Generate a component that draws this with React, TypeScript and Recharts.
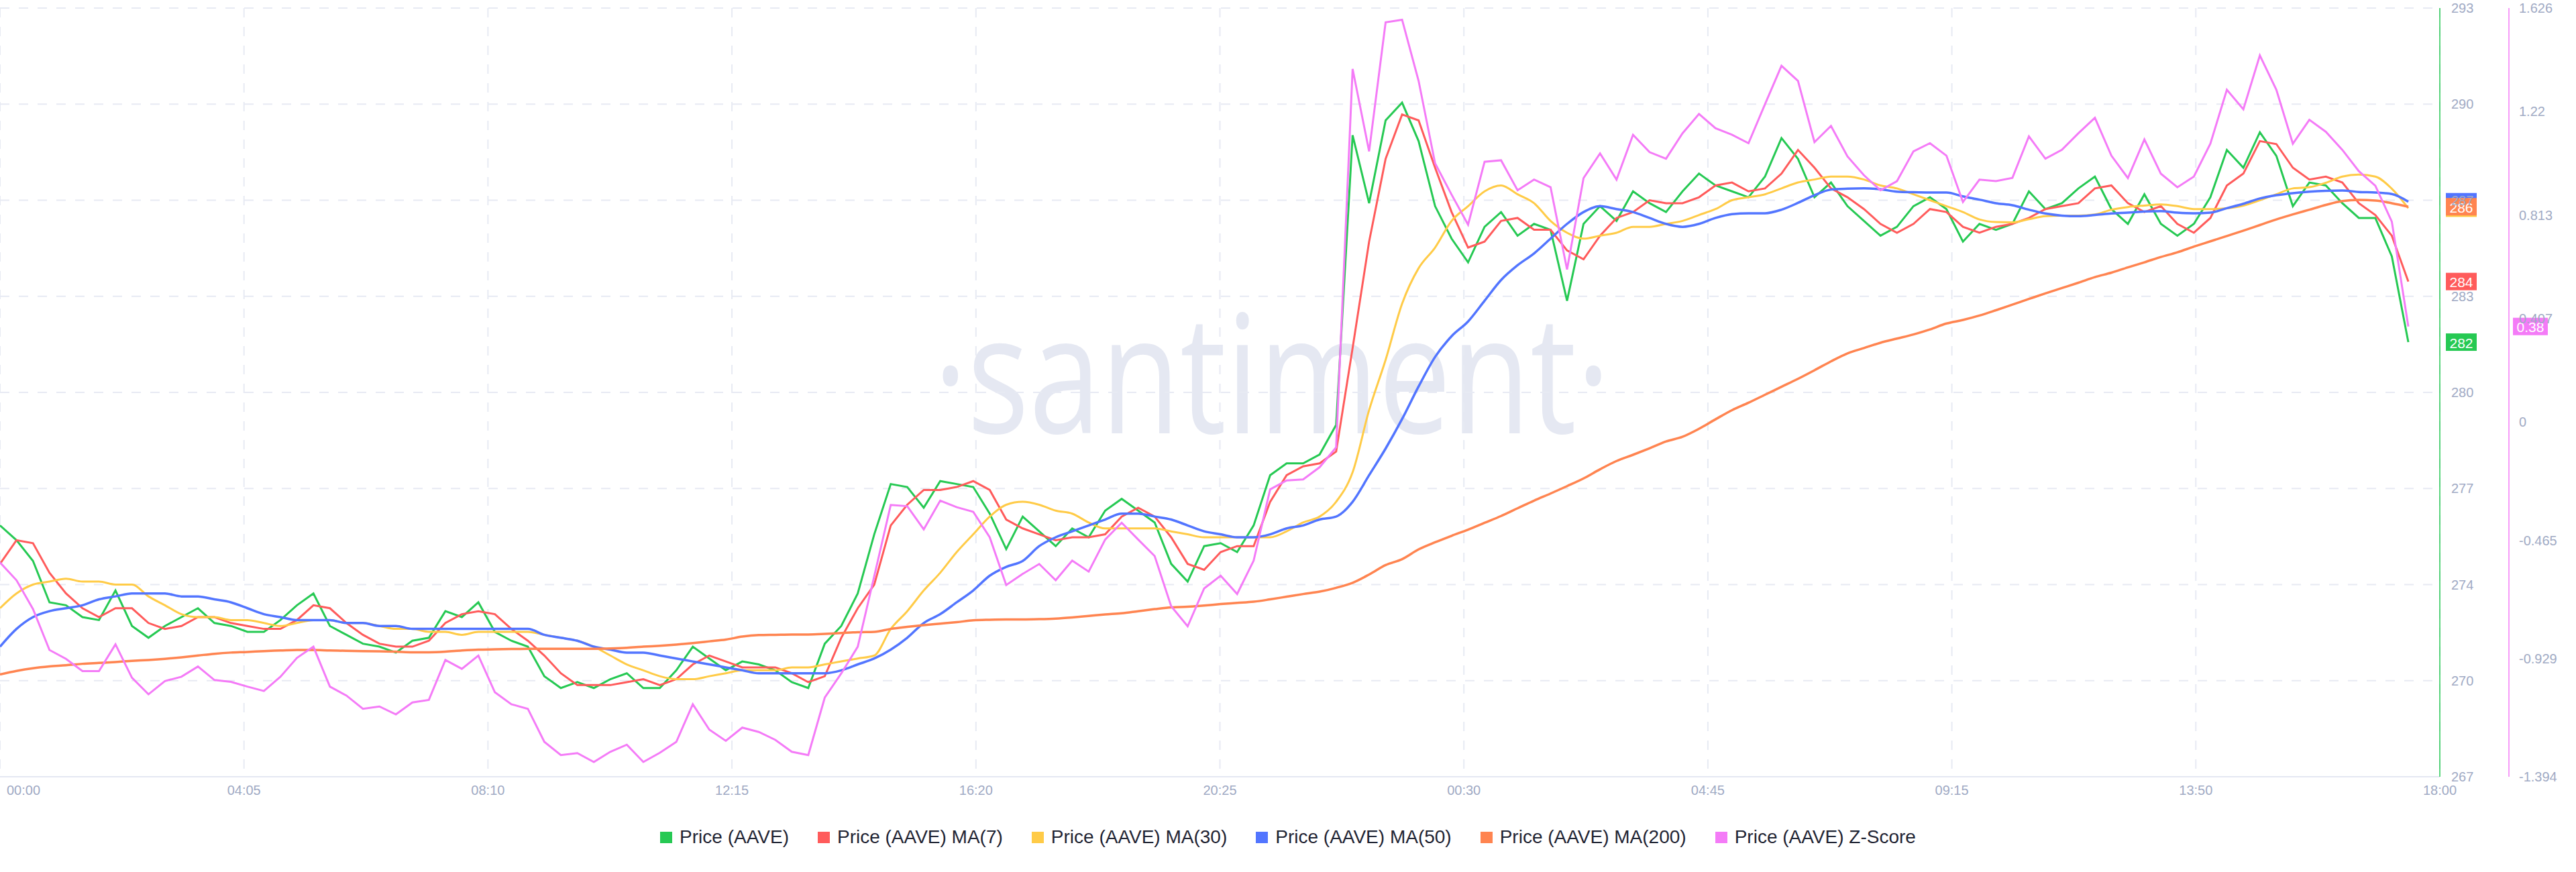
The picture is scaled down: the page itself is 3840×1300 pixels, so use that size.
import { CartesianGrid, Legend, Line, LineChart, ReferenceDot, XAxis, YAxis } from 'recharts'

const TIME_LABELS = ['00:00', '04:05', '08:10', '12:15', '16:20', '20:25', '00:30', '04:45', '09:15', '13:50', '18:00']

const PRICE_TICKS = [267, 270.25, 273.5, 276.75, 280, 283.25, 286.5, 289.75, 293]
const Z_TICKS = [-1.394, -0.929, -0.465, 0, 0.407, 0.813, 1.22, 1.626]

// Price (AAVE)
const PRICE = [
  275.5, 275.0, 274.3, 272.9, 272.8, 272.4, 272.3, 273.3, 272.1, 271.7,
  272.1, 272.4, 272.7, 272.2, 272.1, 271.9, 271.9, 272.3, 272.8, 273.2,
  272.1, 271.8, 271.5, 271.4, 271.2, 271.6, 271.7, 272.6, 272.4, 272.9,
  271.9, 271.6, 271.4, 270.4, 270.0, 270.2, 270.0, 270.3, 270.5, 270.0,
  270.0, 270.6, 271.4, 271.0, 270.6, 270.9, 270.8, 270.6, 270.2, 270.0,
  271.5, 272.1, 273.2, 275.2, 276.9, 276.8, 276.1, 277.0, 276.9, 276.8,
  275.9, 274.7, 275.8, 275.3, 274.8, 275.4, 275.1, 276.0, 276.4, 276.0,
  275.6, 274.2, 273.6, 274.8, 274.9, 274.6, 275.5, 277.2, 277.6, 277.6,
  277.9, 278.9, 288.7, 286.4, 289.2, 289.8, 288.5, 286.3, 285.2, 284.4,
  285.6, 286.1, 285.3, 285.7, 285.5, 283.1, 285.7, 286.3, 285.8, 286.8,
  286.4, 286.1, 286.8, 287.4, 287.0, 286.8, 286.6, 287.3, 288.6, 287.9,
  286.6, 287.1, 286.3, 285.8, 285.3, 285.6, 286.3, 286.6, 286.2, 285.1,
  285.7, 285.5, 285.7, 286.8, 286.2, 286.4, 286.9, 287.3, 286.2, 285.7,
  286.7, 285.7, 285.3, 285.7, 286.6, 288.2, 287.6, 288.8, 288.0, 286.3,
  287.1, 287.0, 286.4, 285.9, 285.9, 284.6, 281.7,
]

// Price (AAVE) MA(7)
const MA7 = [
  274.2, 275.0, 274.9, 273.9, 273.2, 272.7, 272.4, 272.7, 272.7, 272.2,
  272.0, 272.1, 272.4, 272.4, 272.2, 272.1, 272.0, 272.0, 272.3, 272.8,
  272.7, 272.2, 271.8, 271.5, 271.4, 271.4, 271.6, 272.2, 272.5, 272.6,
  272.5, 272.0, 271.6, 271.1, 270.5, 270.1, 270.1, 270.1, 270.2, 270.3,
  270.1, 270.3, 270.8, 271.1, 270.9, 270.7, 270.7, 270.7, 270.5, 270.2,
  270.4, 271.7, 272.7, 273.5, 275.5, 276.2, 276.7, 276.7, 276.8, 277.0,
  276.7, 275.7, 275.4, 275.2, 275.0, 275.1, 275.1, 275.2, 275.8, 276.1,
  275.8, 275.1, 274.2, 274.0, 274.6, 274.8, 274.8, 276.3, 277.2, 277.5,
  277.6, 278.0, 281.5, 285.1, 287.9, 289.4, 289.2, 287.6, 286.1, 284.9,
  285.1, 285.8, 285.9, 285.5, 285.5, 284.8, 284.5, 285.3, 285.9, 286.1,
  286.5, 286.4, 286.4, 286.6, 287.0, 287.1, 286.8, 286.9, 287.4, 288.2,
  287.6, 286.9, 286.6, 286.2, 285.7, 285.4, 285.7, 286.2, 286.1, 285.6,
  285.4, 285.6, 285.7, 285.9, 286.2, 286.3, 286.4, 286.9, 287.0, 286.4,
  286.1, 286.3, 285.7, 285.4, 285.9, 287.0, 287.4, 288.5, 288.4, 287.6,
  287.2, 287.3, 287.1, 286.4, 286.0, 285.3, 283.75,
]

// Price (AAVE) MA(30)
const MA30 = [
  272.7, 273.2, 273.5, 273.6, 273.7, 273.6, 273.6, 273.5, 273.5, 273.1,
  272.8, 272.5, 272.4, 272.4, 272.3, 272.3, 272.2, 272.1, 272.2, 272.3,
  272.3, 272.2, 272.2, 272.1, 272.0, 272.0, 271.9, 271.9, 271.8, 271.9,
  271.9, 271.9, 271.9, 271.8, 271.7, 271.6, 271.4, 271.1, 270.8, 270.6,
  270.4, 270.3, 270.3, 270.4, 270.5, 270.6, 270.6, 270.6, 270.7, 270.7,
  270.8, 270.9, 271.0, 271.1, 272.0, 272.6, 273.3, 273.9, 274.6, 275.2,
  275.8, 276.2, 276.3, 276.2, 276.0, 275.9, 275.6, 275.4, 275.4, 275.4,
  275.4, 275.3, 275.2, 275.1, 275.1, 275.1, 275.1, 275.1, 275.3, 275.6,
  275.8, 276.3, 277.3, 279.4, 281.1, 283.0, 284.2, 284.9, 285.8, 286.3,
  286.8, 287.0, 286.7, 286.4, 285.8, 285.4, 285.2, 285.3, 285.4, 285.6,
  285.6, 285.7, 285.8, 286.0, 286.2, 286.5, 286.6, 286.7, 286.9, 287.1,
  287.2, 287.3, 287.3, 287.2, 287.0, 286.9, 286.7, 286.5, 286.3, 286.1,
  285.85, 285.76, 285.75, 285.86, 285.96, 285.98, 285.98, 286.02, 286.18, 286.27,
  286.32, 286.36, 286.3, 286.2, 286.2, 286.23, 286.32, 286.5, 286.7, 286.9,
  286.94, 287.09, 287.3, 287.37, 287.3, 286.89, 286.23,
]

// Price (AAVE) MA(50)
const MA50 = [
  271.4, 272.0, 272.4, 272.6, 272.7, 272.8, 273.0, 273.1, 273.2, 273.2,
  273.2, 273.1, 273.1, 273.0, 272.9, 272.7, 272.5, 272.4, 272.3, 272.3,
  272.3, 272.2, 272.2, 272.1, 272.1, 272.0, 272.0, 272.0, 272.0, 272.0,
  272.0, 272.0, 272.0, 271.8, 271.7, 271.6, 271.4, 271.3, 271.2, 271.2,
  271.1, 271.0, 270.9, 270.8, 270.7, 270.6, 270.5, 270.5, 270.5, 270.5,
  270.5, 270.6, 270.8, 271.0, 271.3, 271.7, 272.2, 272.5, 272.9, 273.3,
  273.8, 274.1, 274.3, 274.8, 275.1, 275.3, 275.5, 275.7, 275.9, 275.9,
  275.8, 275.7, 275.5, 275.3, 275.2, 275.1, 275.1, 275.2, 275.4, 275.5,
  275.7, 275.8, 276.3, 277.2, 278.1, 279.1, 280.2, 281.2, 281.9, 282.4,
  283.1, 283.8, 284.3, 284.7, 285.2, 285.7, 286.1, 286.3, 286.2, 286.1,
  285.9, 285.7, 285.6, 285.7, 285.9, 286.03, 286.06, 286.06, 286.18, 286.41,
  286.67, 286.86, 286.89, 286.9, 286.87, 286.79, 286.77, 286.76, 286.76, 286.63,
  286.52, 286.4, 286.33, 286.18, 286.05, 285.98, 285.96, 286.0, 286.05, 286.08,
  286.12, 286.13, 286.08, 286.06, 286.08, 286.23, 286.38, 286.56, 286.67, 286.74,
  286.79, 286.82, 286.83, 286.78, 286.76, 286.71, 286.45,
]

// Price (AAVE) MA(200)
const MA200 = [
  270.46, 270.58, 270.67, 270.73, 270.77, 270.82, 270.85, 270.88, 270.92, 270.95,
  270.99, 271.04, 271.1, 271.16, 271.2, 271.22, 271.25, 271.27, 271.29, 271.29,
  271.27, 271.26, 271.25, 271.24, 271.23, 271.21, 271.21, 271.23, 271.27, 271.3,
  271.31, 271.32, 271.33, 271.33, 271.33, 271.33, 271.33, 271.34, 271.36, 271.4,
  271.43, 271.47, 271.52, 271.58, 271.64, 271.74, 271.79, 271.8, 271.81, 271.81,
  271.83, 271.86, 271.89, 271.9, 272.0, 272.07, 272.13, 272.18, 272.23, 272.29,
  272.31, 272.32, 272.32, 272.33, 272.35, 272.39, 272.44, 272.49, 272.53, 272.6,
  272.67, 272.73, 272.75, 272.79, 272.84, 272.88, 272.92, 273.0, 273.09, 273.18,
  273.26, 273.39, 273.56, 273.84, 274.16, 274.36, 274.69, 274.93, 275.15, 275.36,
  275.59, 275.82, 276.08, 276.34, 276.58, 276.83, 277.09, 277.4, 277.68, 277.89,
  278.11, 278.34, 278.5, 278.77, 279.09, 279.4, 279.65, 279.92, 280.19, 280.46,
  280.75, 281.05, 281.32, 281.5, 281.68, 281.82, 281.96, 282.13, 282.33, 282.45,
  282.6, 282.78, 282.97, 283.16, 283.35, 283.53, 283.71, 283.9, 284.05, 284.23,
  284.4, 284.58, 284.74, 284.93, 285.11, 285.29, 285.47, 285.66, 285.85, 286.02,
  286.18, 286.34, 286.47, 286.51, 286.49, 286.4, 286.28,
]

// Price (AAVE) Z-Score
const ZSCORE = [
  -0.552, -0.622, -0.735, -0.896, -0.931, -0.979, -0.979, -0.874, -1.005, -1.07,
  -1.018, -1.001, -0.961, -1.014, -1.021, -1.04, -1.057, -1.001, -0.927, -0.883,
  -1.04, -1.075, -1.127, -1.118, -1.149, -1.102, -1.092, -0.935, -0.97, -0.918,
  -1.062, -1.109, -1.127, -1.257, -1.309, -1.301, -1.336, -1.296, -1.268, -1.336,
  -1.3, -1.257, -1.109, -1.209, -1.253, -1.201, -1.218, -1.249, -1.296, -1.309,
  -1.083, -0.988, -0.883, -0.606, -0.326, -0.331, -0.422, -0.309, -0.335, -0.353,
  -0.453, -0.641, -0.597, -0.558, -0.622, -0.545, -0.588, -0.462, -0.396, -0.462,
  -0.527, -0.724, -0.803, -0.654, -0.604, -0.676, -0.545, -0.265, -0.23, -0.226,
  -0.178, -0.1, 1.387, 1.063, 1.57, 1.58, 1.34, 1.016, 0.893, 0.775,
  1.022, 1.028, 0.91, 0.952, 0.922, 0.599, 0.958, 1.055, 0.952, 1.128,
  1.06, 1.034, 1.134, 1.21, 1.154, 1.128, 1.095, 1.248, 1.399, 1.34,
  1.099, 1.163, 1.043, 0.969, 0.91, 0.946, 1.063, 1.095, 1.046, 0.864,
  0.952, 0.946, 0.959, 1.122, 1.034, 1.069, 1.134, 1.195, 1.046, 0.958,
  1.11, 0.975, 0.922, 0.964, 1.093, 1.305, 1.228, 1.44, 1.305, 1.093,
  1.187, 1.14, 1.069, 0.985, 0.928, 0.787, 0.375,
]

const W = 3840
const H = 1300
const PRICE_AXIS_W = 103
const Z_AXIS_W = 100
const PLOT_RIGHT = W - PRICE_AXIS_W - Z_AXIS_W
const X_MAX = 147.91
const X_STEP = X_MAX / (TIME_LABELS.length - 1)
const X_TICKS = TIME_LABELS.map((_, k) => X_STEP * k)
const LAST = PRICE.length - 1

const AXIS_TEXT = '#9FAAC4'
const GRID = '#E7EAF3'
const FONT = '"Liberation Sans", Arial, sans-serif'

const SERIES = [
  { key: 'price', name: 'Price (AAVE)', color: '#26C953', values: PRICE, axis: 'price', width: 3, type: 'linear' },
  { key: 'ma7', name: 'Price (AAVE) MA(7)', color: '#FF5B5B', values: MA7, axis: 'price', width: 3, type: 'linear' },
  { key: 'ma30', name: 'Price (AAVE) MA(30)', color: '#FFCB47', values: MA30, axis: 'price', width: 3, type: 'monotone' },
  { key: 'ma50', name: 'Price (AAVE) MA(50)', color: '#5275FF', values: MA50, axis: 'price', width: 3.5, type: 'monotone' },
  { key: 'ma200', name: 'Price (AAVE) MA(200)', color: '#FF8450', values: MA200, axis: 'price', width: 3.5, type: 'monotone' },
  { key: 'z', name: 'Price (AAVE) Z-Score', color: '#F47BF7', values: ZSCORE, axis: 'z', width: 3, type: 'linear' },
] as const

const data = PRICE.map((_, i) => {
  const row: Record<string, number> = { i }
  SERIES.forEach((s) => {
    row[s.key] = s.values[i]
  })
  return row
})

function TimeTick(props: any) {
  const { x, y, payload } = props
  const k = Math.round(payload.value / X_STEP)
  const first = k === 0
  return (
    <text
      x={first ? x + 10 : x}
      y={y + 20}
      textAnchor={first ? 'start' : 'middle'}
      dominantBaseline="central"
      fill={AXIS_TEXT}
      fontSize={20}
      fontFamily={FONT}
    >
      {TIME_LABELS[k]}
    </text>
  )
}

function badge(color: string, text: string, left: number, width: number) {
  return (props: any) => {
    const { cy } = props
    return (
      <g>
        <rect x={left} y={cy - 13} width={width} height={26} fill={color} />
        <text
          x={left + width / 2}
          y={cy + 1}
          textAnchor="middle"
          dominantBaseline="central"
          fill="#fff"
          fontSize={21}
          fontFamily={FONT}
        >
          {text}
        </text>
      </g>
    )
  }
}

function LegendContent() {
  return (
    <div
      style={{
        height: 72,
        paddingTop: 6,
        boxSizing: 'border-box',
        display: 'flex',
        justifyContent: 'center',
        alignItems: 'flex-start',
        gap: 43,
      }}
    >
      {SERIES.map((s) => (
        <div key={s.key} style={{ display: 'flex', alignItems: 'center', height: 28 }}>
          <span style={{ width: 18, height: 17, background: s.color, marginRight: 11, display: 'inline-block' }} />
          <span style={{ fontSize: 28, fontFamily: FONT, color: '#1F2433', lineHeight: '28px' }}>{s.name}</span>
        </div>
      ))}
    </div>
  )
}

export default function App() {
  return (
    <div style={{ position: 'absolute', left: 0, top: 0, width: W, height: H, background: '#fff' }}>
      <svg width={W} height={H} style={{ position: 'absolute', left: 0, top: 0 }}>
        <text
          x={1896}
          y={646}
          textAnchor="middle"
          fill="#E5E8F2"
          fontSize={245}
          fontFamily='"Open Sans", sans-serif'
          textLength={1009}
          lengthAdjust="spacingAndGlyphs"
        >
          ·santiment·
        </text>
      </svg>
      <LineChart width={W} height={H} data={data} margin={{ top: 12, right: 0, bottom: 0, left: 0 }}>
        <CartesianGrid yAxisId="price" stroke={GRID} strokeWidth={2} strokeDasharray="14 14" />
        <XAxis
          dataKey="i"
          type="number"
          domain={[0, X_MAX]}
          ticks={X_TICKS}
          interval={0}
          height={70}
          tickLine={false}
          tickSize={0}
          tickMargin={0}
          axisLine={{ stroke: '#E4E7F2', strokeWidth: 2 }}
          tick={<TimeTick />}
        />
        <YAxis
          yAxisId="price"
          orientation="right"
          width={PRICE_AXIS_W}
          domain={[267, 293]}
          ticks={PRICE_TICKS}
          interval={0}
          tickLine={false}
          tickSize={0}
          tickMargin={17}
          axisLine={{ stroke: '#26C953', strokeWidth: 1.5 }}
          tick={{ fill: AXIS_TEXT, fontSize: 20, fontFamily: FONT }}
          tickFormatter={(v: number) => String(Math.round(v))}
        />
        <YAxis
          yAxisId="z"
          orientation="right"
          width={Z_AXIS_W}
          domain={[-1.394, 1.626]}
          ticks={Z_TICKS}
          interval={0}
          tickLine={false}
          tickSize={0}
          tickMargin={15}
          axisLine={{ stroke: '#F47BF7', strokeWidth: 1.5 }}
          tick={{ fill: AXIS_TEXT, fontSize: 20, fontFamily: FONT }}
        />
        {SERIES.map((s) => (
          <Line
            key={s.key}
            yAxisId={s.axis}
            dataKey={s.key}
            name={s.name}
            type={s.type}
            stroke={s.color}
            strokeWidth={s.width}
            dot={false}
            activeDot={false}
            isAnimationActive={false}
          />
        ))}
        {SERIES.map((s) => {
          const v = s.values[LAST]
          const isZ = s.axis === 'z'
          const text = isZ ? v.toFixed(2) : String(Math.round(v))
          const left = isZ ? PLOT_RIGHT + PRICE_AXIS_W + 6 : PLOT_RIGHT + 9
          return (
            <ReferenceDot
              key={`badge-${s.key}`}
              yAxisId={s.axis}
              x={LAST}
              y={v}
              r={0}
              ifOverflow="visible"
              shape={badge(s.color, text, left, isZ ? 52 : 46)}
            />
          )
        })}
        <Legend verticalAlign="bottom" align="center" height={72} content={() => <LegendContent />} />
      </LineChart>
    </div>
  )
}
